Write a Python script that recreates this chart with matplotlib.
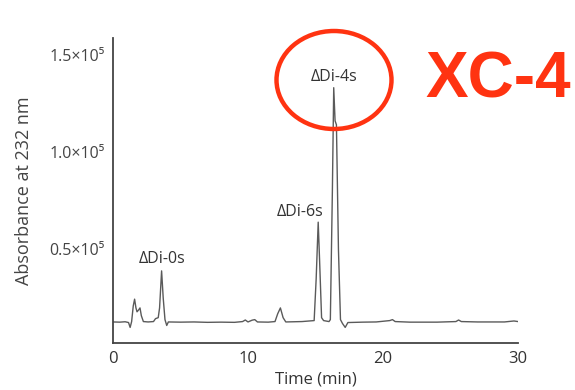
import matplotlib
matplotlib.use("Agg")
import matplotlib.pyplot as plt
from matplotlib.patches import Ellipse

plt.rcParams['font.family'] = ['Open Sans', 'DejaVu Sans']

# Chromatogram trace: time (min) and absorbance at 232 nm (x 1e5)
time_min = [0.0, 0.5, 0.9, 1.15, 1.27, 1.38, 1.5, 1.6, 1.7, 1.78, 1.9, 2.0, 2.1, 2.25,
            2.6, 3.0, 3.15, 3.35, 3.45, 3.6, 3.72, 3.85, 3.98, 4.1, 5.0, 6.0, 7.0, 8.0,
            9.0, 9.6, 9.8, 10.0, 10.3, 10.5, 10.7, 11.5, 12.0, 12.2, 12.4, 12.6, 12.8,
            14.0, 14.9, 15.05, 15.2, 15.3, 15.45, 15.6, 16.0, 16.1, 16.25, 16.35, 16.45,
            16.55, 16.7, 16.85, 17.0, 17.2, 17.4, 18.5, 19.5, 20.5, 20.7, 20.9, 22.0,
            24.0, 25.4, 25.6, 25.8, 27.0, 29.0, 29.7, 30.2]
absorbance_e5 = [0.128, 0.127, 0.129, 0.125, 0.10, 0.13, 0.21, 0.245, 0.20, 0.18, 0.19, 0.20, 0.16, 0.13,
                 0.128, 0.13, 0.145, 0.15, 0.20, 0.39, 0.25, 0.14, 0.11, 0.128, 0.127, 0.128, 0.126, 0.127,
                 0.126, 0.13, 0.138, 0.128, 0.137, 0.14, 0.128, 0.127, 0.13, 0.17, 0.20, 0.15, 0.128,
                 0.13, 0.135, 0.35, 0.64, 0.45, 0.15, 0.135, 0.13, 0.14, 0.80, 1.33, 1.16,
                 1.14, 0.50, 0.14, 0.12, 0.10, 0.125, 0.127, 0.128, 0.135, 0.14, 0.13, 0.127,
                 0.127, 0.13, 0.138, 0.13, 0.128, 0.128, 0.133, 0.128]

# Peak annotations
peak_names = ["\u0394Di-0s", "\u0394Di-6s", "\u0394Di-4s"]
peak_label_x = [3.63, 13.85, 16.37]
peak_label_y = [0.451, 0.692, 1.385]

xticks = [0, 10, 20, 30]
yticks = [0.5, 1.0, 1.5]
ytick_labels = ["0.5\u00d710\u2075", "1.0\u00d710\u2075", "1.5\u00d710\u2075"]

fig = plt.figure(figsize=(5.75, 3.9), dpi=100)
ax = fig.add_axes([113/575, 1-343/390, (518-113)/575, (343-38)/390])

y = [v * 1e5 for v in absorbance_e5]
ax.plot(time_min, y, color="#5a5a5a", lw=1.0)

ax.set_xlim(0, 30)
ax.set_ylim(0.02e5, 1.585e5)
ax.spines['top'].set_visible(False)
ax.spines['right'].set_visible(False)
for s in ['left', 'bottom']:
    ax.spines[s].set_color("#444444")
    ax.spines[s].set_linewidth(1.3)

ax.set_xticks(xticks)
ax.set_xticklabels([str(t) for t in xticks], fontsize=12, color="#333333")
ax.set_yticks([v * 1e5 for v in yticks])
ax.set_yticklabels(ytick_labels, fontsize=11.5, color="#444444")
ax.tick_params(axis='both', length=0)
ax.tick_params(axis='x', pad=6)
ax.tick_params(axis='y', pad=6)

ax.set_xlabel("Time (min)", fontsize=12, color="#333333")
ax.xaxis.set_label_coords(0.5, (343-380)/305)
ax.xaxis.label.set_va("center")
ax.set_ylabel("Absorbance at 232 nm", fontsize=13, color="#444444", va="center")
ax.yaxis.set_label_coords((24-113)/405, 0.5)

for name, t, ly in zip(peak_names, peak_label_x, peak_label_y):
    ax.text(t, ly * 1e5, name, ha="center", va="center", fontsize=11.5, color="#333333")

red = "#FF3311"
ell = Ellipse((334/575, 1-80/390), 115/575, 98/390, transform=fig.transFigure,
              fill=False, edgecolor=red, lw=3.2)
fig.add_artist(ell)
fig.text(498/575, 1-80/390, "XC-4", ha="center", va="center", fontsize=46,
         fontweight="bold", color=red, family="Liberation Sans")

fig.savefig("out.png", dpi=100, facecolor="white")
